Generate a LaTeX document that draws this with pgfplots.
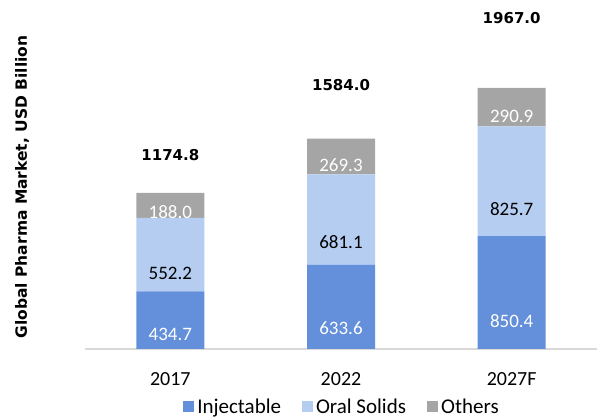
\documentclass[border=0pt]{standalone}
\usepackage{pgfplots}
\pgfplotsset{compat=1.18}
\usepackage{fontspec}
\setmainfont{Carlito}
\newfontfamily\dvb{DejaVu Sans}
\definecolor{inj}{HTML}{638FDB}
\definecolor{oral}{HTML}{B4CDF1}
\definecolor{oth}{HTML}{A5A5A5}
\definecolor{axl}{HTML}{D9D9D9}
\begin{document}
\begin{tikzpicture}
\begin{axis}[
  at={(0pt,0pt)}, anchor=south west,
  scale only axis, width=512pt, height=349pt,
  xmin=-0.5, xmax=2.5, ymin=0, ymax=2628,
  ybar stacked, bar width=68pt,
  axis y line=none, axis x line*=bottom,
  x axis line style={draw=axl, line width=2pt, -},
  xtick={0,1,2}, xticklabels={2017,2022,2027F},
  major tick length=0pt,
  xticklabel style={font=\fontsize{20}{22}\selectfont, anchor=base, yshift=-37pt},
  visualization depends on=rawy \as \rawy,
  nodes near coords,
  nodes near coords style={font=\fontsize{19}{22}\selectfont, anchor=center,
    shift={(axis direction cs:0,-\rawy/4)},
    /pgf/number format/fixed, /pgf/number format/fixed zerofill, /pgf/number format/precision=1,
    /pgf/number format/assume math mode=true},
  legend columns=-1,
  legend style={at={(rel axis cs:0.5029,-0.166)}, anchor=center, draw=none,
    font=\fontsize{21}{23}\selectfont, inner sep=0pt,
    nodes={inner xsep=3pt, inner ysep=0pt},
    /tikz/every even column/.append style={column sep=18pt}},
  legend image code/.code={\draw[#1, draw=none] (0pt,-5.5pt) rectangle (11pt,5.5pt);},
]
\addplot[fill=inj, draw=none, nodes near coords style={text=white}] coordinates {(0,434.7) (1,633.6) (2,850.4)};
\addplot[fill=oral, draw=none, nodes near coords style={text=black}] coordinates {(0,552.2) (1,681.1) (2,825.7)};
\addplot[fill=oth, draw=none, nodes near coords style={text=white}] coordinates {(0,188.0) (1,269.3) (2,290.9)};
\legend{Injectable, Oral Solids, Others}
\end{axis}
\begin{axis}[
  at={(0pt,0pt)}, anchor=south west,
  scale only axis, width=512pt, height=349pt,
  xmin=-0.5, xmax=2.5, ymin=0, ymax=2628, hide axis]
\addplot[draw=none, mark=none, nodes near coords, point meta=explicit symbolic,
  nodes near coords style={font=\dvb\bfseries\fontsize{15}{18}\selectfont, anchor=center, text=black}]
  table[meta=label] {
x y label
0 1461 1174.8
1 1988 1584.0
2 2492 1967.0
};
\end{axis}
\node[rotate=90, font=\dvb\bfseries\fontsize{15.5}{18}\selectfont] at (-63pt,162pt) {Global Pharma Market, USD Billion};
\pgfresetboundingbox
\useasboundingbox (-85pt,-70pt) rectangle (512pt,349pt);
\end{tikzpicture}
\end{document}
